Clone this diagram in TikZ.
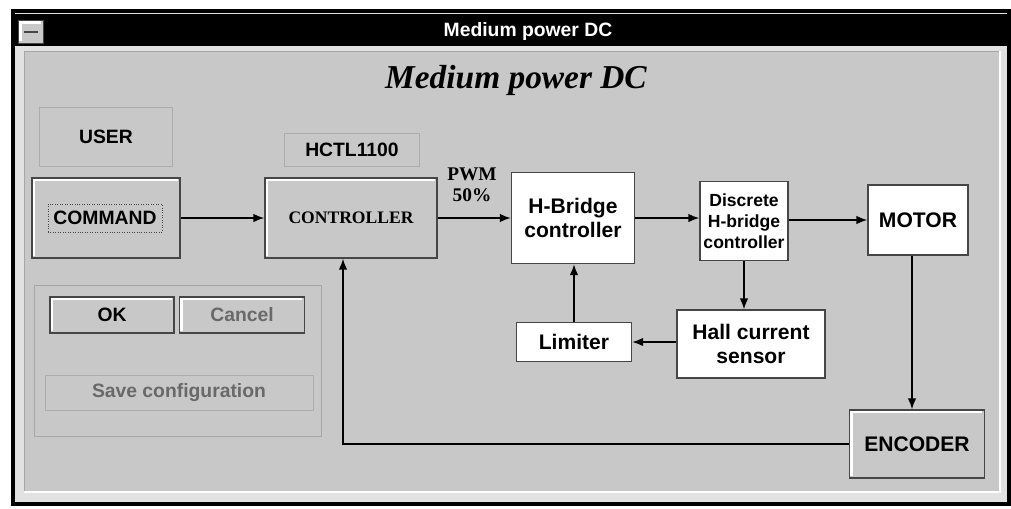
\documentclass[tikz,border=0pt]{standalone}
\usepackage{fontspec}
\setmainfont{Liberation Serif}
\setsansfont{Liberation Sans}
\usetikzlibrary{arrows.meta, positioning}
\definecolor{winbg}{RGB}{200,200,200}
\definecolor{frame}{RGB}{226,226,226}
\definecolor{edge}{RGB}{70,70,70}
\definecolor{dim}{RGB}{105,105,105}
\tikzset{
  btn/.style={rectangle, draw=edge, thick, fill=winbg, align=center,
              font=\sffamily\bfseries\fontsize{11}{13}\selectfont, inner sep=0pt},
  % relieve claro arriba/izquierda
  raised/.style={path picture={\draw[white, line width=1.4pt]
              ([shift={(1.2pt,1.2pt)}]path picture bounding box.south west)
              |- ([shift={(-1.2pt,-1.2pt)}]path picture bounding box.north east);}},
  blk/.style={rectangle, draw=edge, thick, fill=white, align=center,
              font=\sffamily\bfseries\fontsize{12}{14}\selectfont, inner sep=0pt},
  % etiqueta fija (borde claro)
  lab/.style={rectangle, draw=gray!65, fill=winbg, align=center,
              font=\sffamily\bfseries\fontsize{11}{13}\selectfont, inner sep=0pt},
  ar/.style={-{Latex[length=2.2mm, width=1.7mm]}, thick, draw=black}
}
\begin{document}
\begin{tikzpicture}[x=0.02cm, y=-0.02cm]
  \useasboundingbox (0,0) rectangle (1011,508);
  % ventana
  \fill[white] (0,0) rectangle (1011,508);
  \draw[black, line width=2.2pt, fill=frame] (13,11) rectangle (1009,504);
  \fill[black] (14,14) rectangle (1009,46);
  \node[btn, thin, raised, minimum width=0.5cm, minimum height=0.46cm] (sysmenu) at (31,32) {};
  \draw[edge, thick] ([xshift=-4pt]sysmenu.center) -- ([xshift=4pt]sysmenu.center);
  \node[font=\sffamily\bfseries\fontsize{11}{13}\selectfont, text=white] (wtitle) at (528,31) {Medium power DC};
  \draw[gray!70, fill=winbg] (24,51) rectangle (1000,492);
  \draw[white, thick] (24,492) -- (1000,492) -- (1000,51);
  \node[font=\rmfamily\bfseries\itshape\fontsize{19}{23}\selectfont] (title) at (516,80) {Medium power DC};

  % lado del usuario
  \node[lab, minimum width=2.66cm, minimum height=1.18cm] (user) at (106,137) {USER};
  \node[btn, raised, minimum width=2.96cm, minimum height=1.6cm] (cmd) at (106,218) {};
  \node[btn, draw=edge, thin, densely dotted, fill=none, minimum width=2.28cm,
        minimum height=0.56cm] (cmdlbl) at (105,218) {\textcolor{black}{COMMAND}};
  \node[rectangle, draw=gray!70, minimum width=5.74cm, minimum height=3.02cm] (grp) at (178,361) {};
  \node[btn, raised, minimum width=2.48cm, minimum height=0.72cm] (ok) at (112,315) {OK};
  \node[btn, raised, text=dim, minimum width=2.5cm, minimum height=0.72cm] (cancel) at (242,315) {Cancel};
  \node[lab, text=dim, minimum width=5.36cm, minimum height=0.7cm] (save) at (179,393) {Save configuration};

  % lazo de control
  \node[lab, minimum width=2.7cm, minimum height=0.66cm] (hctl) at (352,150) {HCTL1100};
  \node[btn, raised, font=\rmfamily\bfseries\fontsize{10}{12}\selectfont,
        minimum width=3.44cm, minimum height=1.6cm] (ctrl) at (351,218) {CONTROLLER};
  \node[font=\rmfamily\bfseries\fontsize{11}{12}\selectfont, align=center] (pwm) at (472,185) {PWM\\50\%};
  \node[blk, minimum width=2.46cm, minimum height=1.82cm] (hbr) at (573,218) {H-Bridge\\controller};
  \node[blk, font=\sffamily\bfseries\fontsize{10}{12}\selectfont,
        minimum width=1.76cm, minimum height=1.58cm] (disc) at (744,221) {Discrete\\H-bridge\\controller};
  \node[blk, minimum width=2.0cm, minimum height=1.4cm] (motor) at (918,220) {MOTOR};
  \node[blk, minimum width=2.96cm, minimum height=1.36cm] (hall) at (751,344) {Hall current\\sensor};
  \node[blk, minimum width=2.3cm, minimum height=0.78cm] (lim) at (574,342) {Limiter};
  \node[btn, raised, font=\sffamily\bfseries\fontsize{12}{14}\selectfont,
        minimum width=2.7cm, minimum height=1.36cm] (enc) at (917,444) {ENCODER};

  \draw[ar] (cmd) -- (ctrl);
  \draw[ar] (ctrl) -- (hbr);
  \draw[ar] (hbr.east) -- (hbr.east -| disc.west);
  \draw[ar] (disc.east |- motor.west) -- (motor.west);
  \draw[ar] (disc.south) -- (disc.south |- hall.north);
  \draw[ar] (hall.west |- lim.east) -- (lim.east);
  \draw[ar] (lim.north) -- (lim.north |- hbr.south);
  \draw[ar] ([xshift=-0.12cm]motor.south) -- ([xshift=-0.12cm]motor.south |- enc.north);
  \draw[ar] (enc.west) -| ([xshift=-0.16cm]ctrl.south);
\end{tikzpicture}
\end{document}
